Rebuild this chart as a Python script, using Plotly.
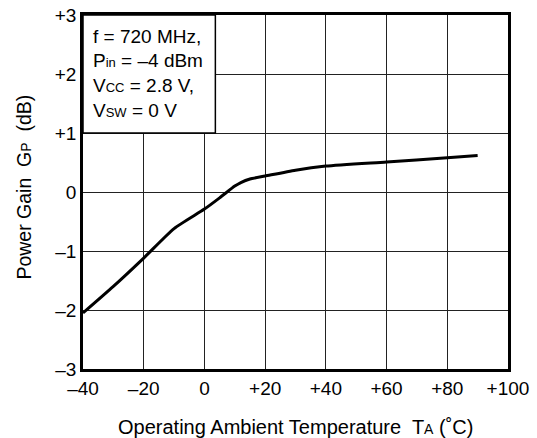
import plotly.graph_objects as go

# Data
temp_c = [-40, -30, -20, -10, 0, 5, 10, 12, 15, 20, 30, 40, 60, 80, 90]
gain_db = [-2.05, -1.6, -1.12, -0.62, -0.29, -0.1, 0.1, 0.16, 0.22, 0.27, 0.37, 0.44, 0.51, 0.58, 0.62]

x_ticks = [-40, -20, 0, 20, 40, 60, 80, 100]
x_labels = ["\u201340", "\u201320", "0", "+20", "+40", "+60", "+80", "+100"]
y_ticks = [-3, -2, -1, 0, 1, 2, 3]
y_labels = ["\u20133", "\u20132", "\u20131", "0", "+1", "+2", "+3"]

SB = '<span style="font-size:13px">'
ST = '<span style="font-size:14px">'
cond_lines = ["f = 720 MHz,",
              "P" + SB + "in</span> = \u20134 dBm",
              "V" + SB + "CC</span> = 2.8 V,",
              "V" + SB + "SW</span> = 0 V"]
x_title = "Operating Ambient Temperature  T" + ST + "A</span> (\u02daC)"
y_title = "Power Gain  G" + ST + "P</span>  (dB)"

font = "Liberation Sans, Arial, sans-serif"

fig = go.Figure()
fig.add_trace(go.Scatter(
    x=temp_c, y=gain_db, mode="lines",
    line=dict(color="black", width=3, shape="spline", smoothing=0.6),
    showlegend=False, hoverinfo="skip",
))

# Condition box
fig.add_shape(type="rect", xref="x", yref="y", x0=-40, x1=3.6, y0=1, y1=3,
              fillcolor="white", line=dict(color="black", width=1.5), layer="above")
for i, (t, yp) in enumerate(zip(cond_lines, [0.940, 0.871, 0.801, 0.731])):
    fig.add_annotation(xref="paper", yref="paper", x=0.019, y=yp,
                       text=t, showarrow=False, xanchor="left", yanchor="middle",
                       font=dict(family=font, size=19, color="black"))

fig.add_annotation(xref="paper", yref="paper", x=0.5, y=-0.164, text=x_title,
                   showarrow=False, xanchor="center", yanchor="middle",
                   font=dict(family=font, size=20, color="black"))
fig.add_annotation(xref="paper", yref="paper", x=-0.139, y=0.515, text=y_title,
                   showarrow=False, xanchor="center", yanchor="middle", textangle=-90,
                   font=dict(family=font, size=19.5, color="black"))

fig.update_xaxes(range=[-40, 100], tickvals=x_ticks, ticktext=x_labels,
                 showgrid=True, gridcolor="#222", gridwidth=1.4,
                 showline=True, linecolor="black", linewidth=2.5, mirror=True,
                 ticks="", zeroline=False, automargin=False, ticklabeloverflow="allow",
                 tickfont=dict(family=font, size=19, color="black"))
fig.update_yaxes(range=[-3, 3], tickvals=y_ticks, ticktext=y_labels,
                 showgrid=True, gridcolor="#222", gridwidth=1.4,
                 showline=True, linecolor="black", linewidth=2.5, mirror=True,
                 ticks="", zeroline=False, automargin=False, ticklabeloverflow="allow",
                 tickfont=dict(family=font, size=19, color="black"))

fig.update_layout(width=537, height=438, margin=dict(l=83, r=29, t=15, b=69),
                  plot_bgcolor="white", paper_bgcolor="white")

# Remove the default page body margin so the figure fills the window exactly
fig.write_html("out.html", config={"displayModeBar": False},
               post_script="document.body.style.margin='0px';document.body.style.overflow='hidden';")
